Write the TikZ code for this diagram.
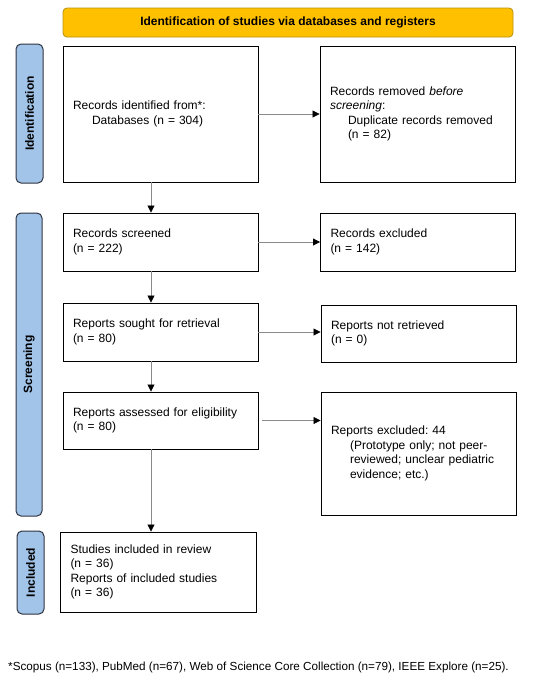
\documentclass[tikz,border=0pt]{standalone}
\usepackage{fontspec}
\setmainfont{Liberation Sans}
\usetikzlibrary{arrows.meta}
\definecolor{bannerfill}{HTML}{FFC000}
\definecolor{bannerdraw}{HTML}{B8900A}
\definecolor{sidefill}{HTML}{A2C4E9}
\definecolor{sidedraw}{HTML}{2E3440}
\definecolor{arrowgray}{HTML}{8A8A8A}
\frenchspacing
\begin{document}
\begin{tikzpicture}[x=1pt,y=-1pt,
  every node/.style={font=\fontsize{12}{14.5}\selectfont},
  box/.style={draw=black, line width=0.9pt, rectangle, inner sep=0pt, inner xsep=10pt,
    minimum width=195pt, text width=175pt, align=left},
  side/.style={draw=sidedraw, fill=sidefill, line width=1pt, rounded corners=5pt,
    rotate=90, inner sep=0pt, font=\fontsize{12}{14.5}\selectfont\bfseries},
  banner/.style={draw=bannerdraw, fill=bannerfill, line width=0.8pt, rounded corners=4pt,
    inner sep=0pt, font=\fontsize{12}{14.5}\selectfont\bfseries},
  flow/.style={draw=arrowgray, line width=0.8pt, -{Triangle[length=7pt,width=7pt,color=black]}}
]
\useasboundingbox (0,0) rectangle (550,680);

\node[banner, minimum width=450pt, minimum height=29pt] (title) at (288,22.5)
  {Identification of studies via databases and registers};

\node[side, minimum width=139pt, minimum height=27pt] (lid) at (29.5,113.5) {Identification};
\node[side, minimum width=303pt, minimum height=26pt] (lsc) at (29,364.5) {Screening};
\node[side, minimum width=83pt, minimum height=27pt] (lin) at (30.5,572.5) {Included};

\node[box, minimum height=136pt] (ident) at (160.5,114)
  {Records identified from*:\\\hspace*{19pt}Databases (n = 304)};
\node[box, minimum height=136pt] (removed) at (417.5,114)
  {Records removed \textit{before}\\\textit{screening}:\\\hspace*{18pt}Duplicate records removed\\\hspace*{18pt}(n = 82)};

\node[box, minimum height=58pt] (screened) at (160.5,242)
  {Records screened\\(n = 222)};
\node[box, minimum height=58pt] (excluded) at (418,242)
  {Records excluded\\(n = 142)};

\node[box, minimum height=58pt] (sought) at (160.5,332)
  {Reports sought for retrieval\\(n = 80)};
\node[box, minimum height=57pt] (notret) at (418.5,333.5)
  {Reports not retrieved\\(n = 0)};

\node[box, minimum height=57pt] (assessed) at (160.5,420.5)
  {Reports assessed for eligibility\\(n = 80)};
\node[box, minimum height=123pt] (repexcl) at (418.5,453.5)
  {Reports excluded: 44\\\hspace*{19pt}(Prototype only; not peer-\\\hspace*{19pt}reviewed; unclear pediatric\\\hspace*{19pt}evidence; etc.)};

\node[box, minimum width=196pt, minimum height=80pt] (included) at (158,572)
  {Studies included in review\\(n = 36)\\Reports of included studies\\(n = 36)};

\node[anchor=west, inner sep=0pt, font=\fontsize{11.7}{14}\selectfont] (foot) at (8,667)
  {*Scopus (n=133), PubMed (n=67), Web of Science Core Collection (n=79), IEEE Explore (n=25).};

\coordinate (col) at (151,0);

\draw[flow] (ident.east) -- (removed.west);
\draw[flow] (screened.east) -- (excluded.west);
\draw[flow] (sought.east) -- (sought.east -| notret.west);
\draw[flow] ([xshift=4pt]assessed.east) -- (assessed.east -| repexcl.west);

\draw[flow] (ident.south -| col) -- (screened.north -| col);
\draw[flow] (screened.south -| col) -- (sought.north -| col);
\draw[flow] (sought.south -| col) -- (assessed.north -| col);
\draw[flow] (assessed.south -| col) -- (included.north -| col);
\end{tikzpicture}
\end{document}
